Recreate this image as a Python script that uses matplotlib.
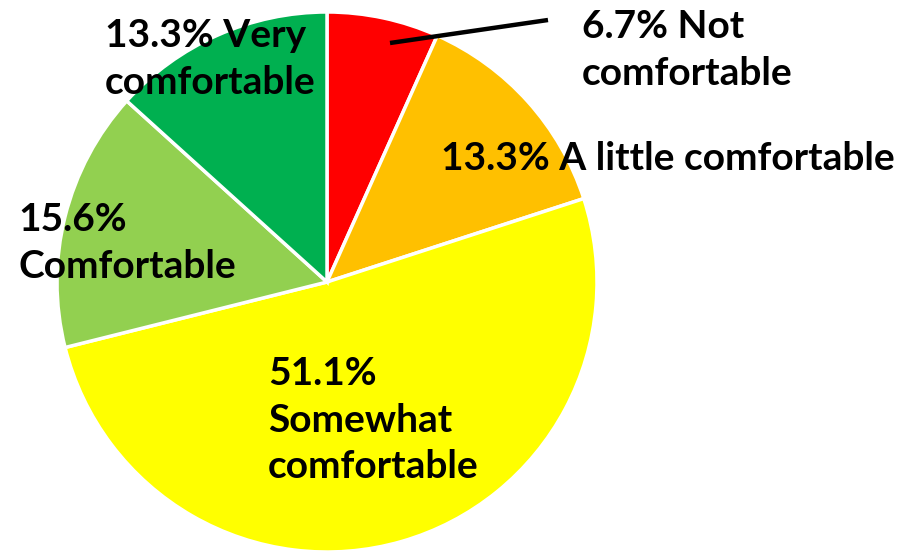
import matplotlib.pyplot as plt

# datos del pie
labels = ["Not comfortable", "A little comfortable", "Somewhat comfortable",
          "Comfortable", "Very comfortable"]
values = [6.7, 13.3, 51.1, 15.6, 13.3]
colors = ["#FF0000", "#FFC000", "#FFFF00", "#92D050", "#00B050"]
# textos tal cual salen en el grafico
label_texts = ["6.7% Not\ncomfortable", "13.3% A little comfortable",
               "51.1%\nSomewhat\ncomfortable", "15.6%\nComfortable",
               "13.3% Very\ncomfortable"]
# posicion (pixeles de la imagen) de cada etiqueta
label_pos = [(582, 50), (441, 158), (268, 420), (18, 243), (105, 59)]

W, H = 917, 554
fig = plt.figure(figsize=(W / 100, H / 100), dpi=100)
ax = fig.add_axes([0, 0, 1, 1])

ax.pie(values, colors=colors, startangle=90, counterclock=False,
       center=(327, H - 282), radius=270,
       wedgeprops=dict(edgecolor="white", linewidth=2.5))
# el pie cambia los limites, asi que se ponen despues
ax.set_xlim(0, W)
ax.set_ylim(0, H)
ax.set_aspect("equal")
ax.axis("off")

# linea del label chiquito
ax.plot([390, 548], [H - 43, H - 20], color="black", lw=3.2, solid_capstyle="butt")

for txt, (x, y) in zip(label_texts, label_pos):
    ax.text(x, H - y, txt, ha="left", va="center", fontsize=28,
            fontweight="bold", family="Lato", linespacing=1.4)

fig.savefig("out.png", dpi=100)
